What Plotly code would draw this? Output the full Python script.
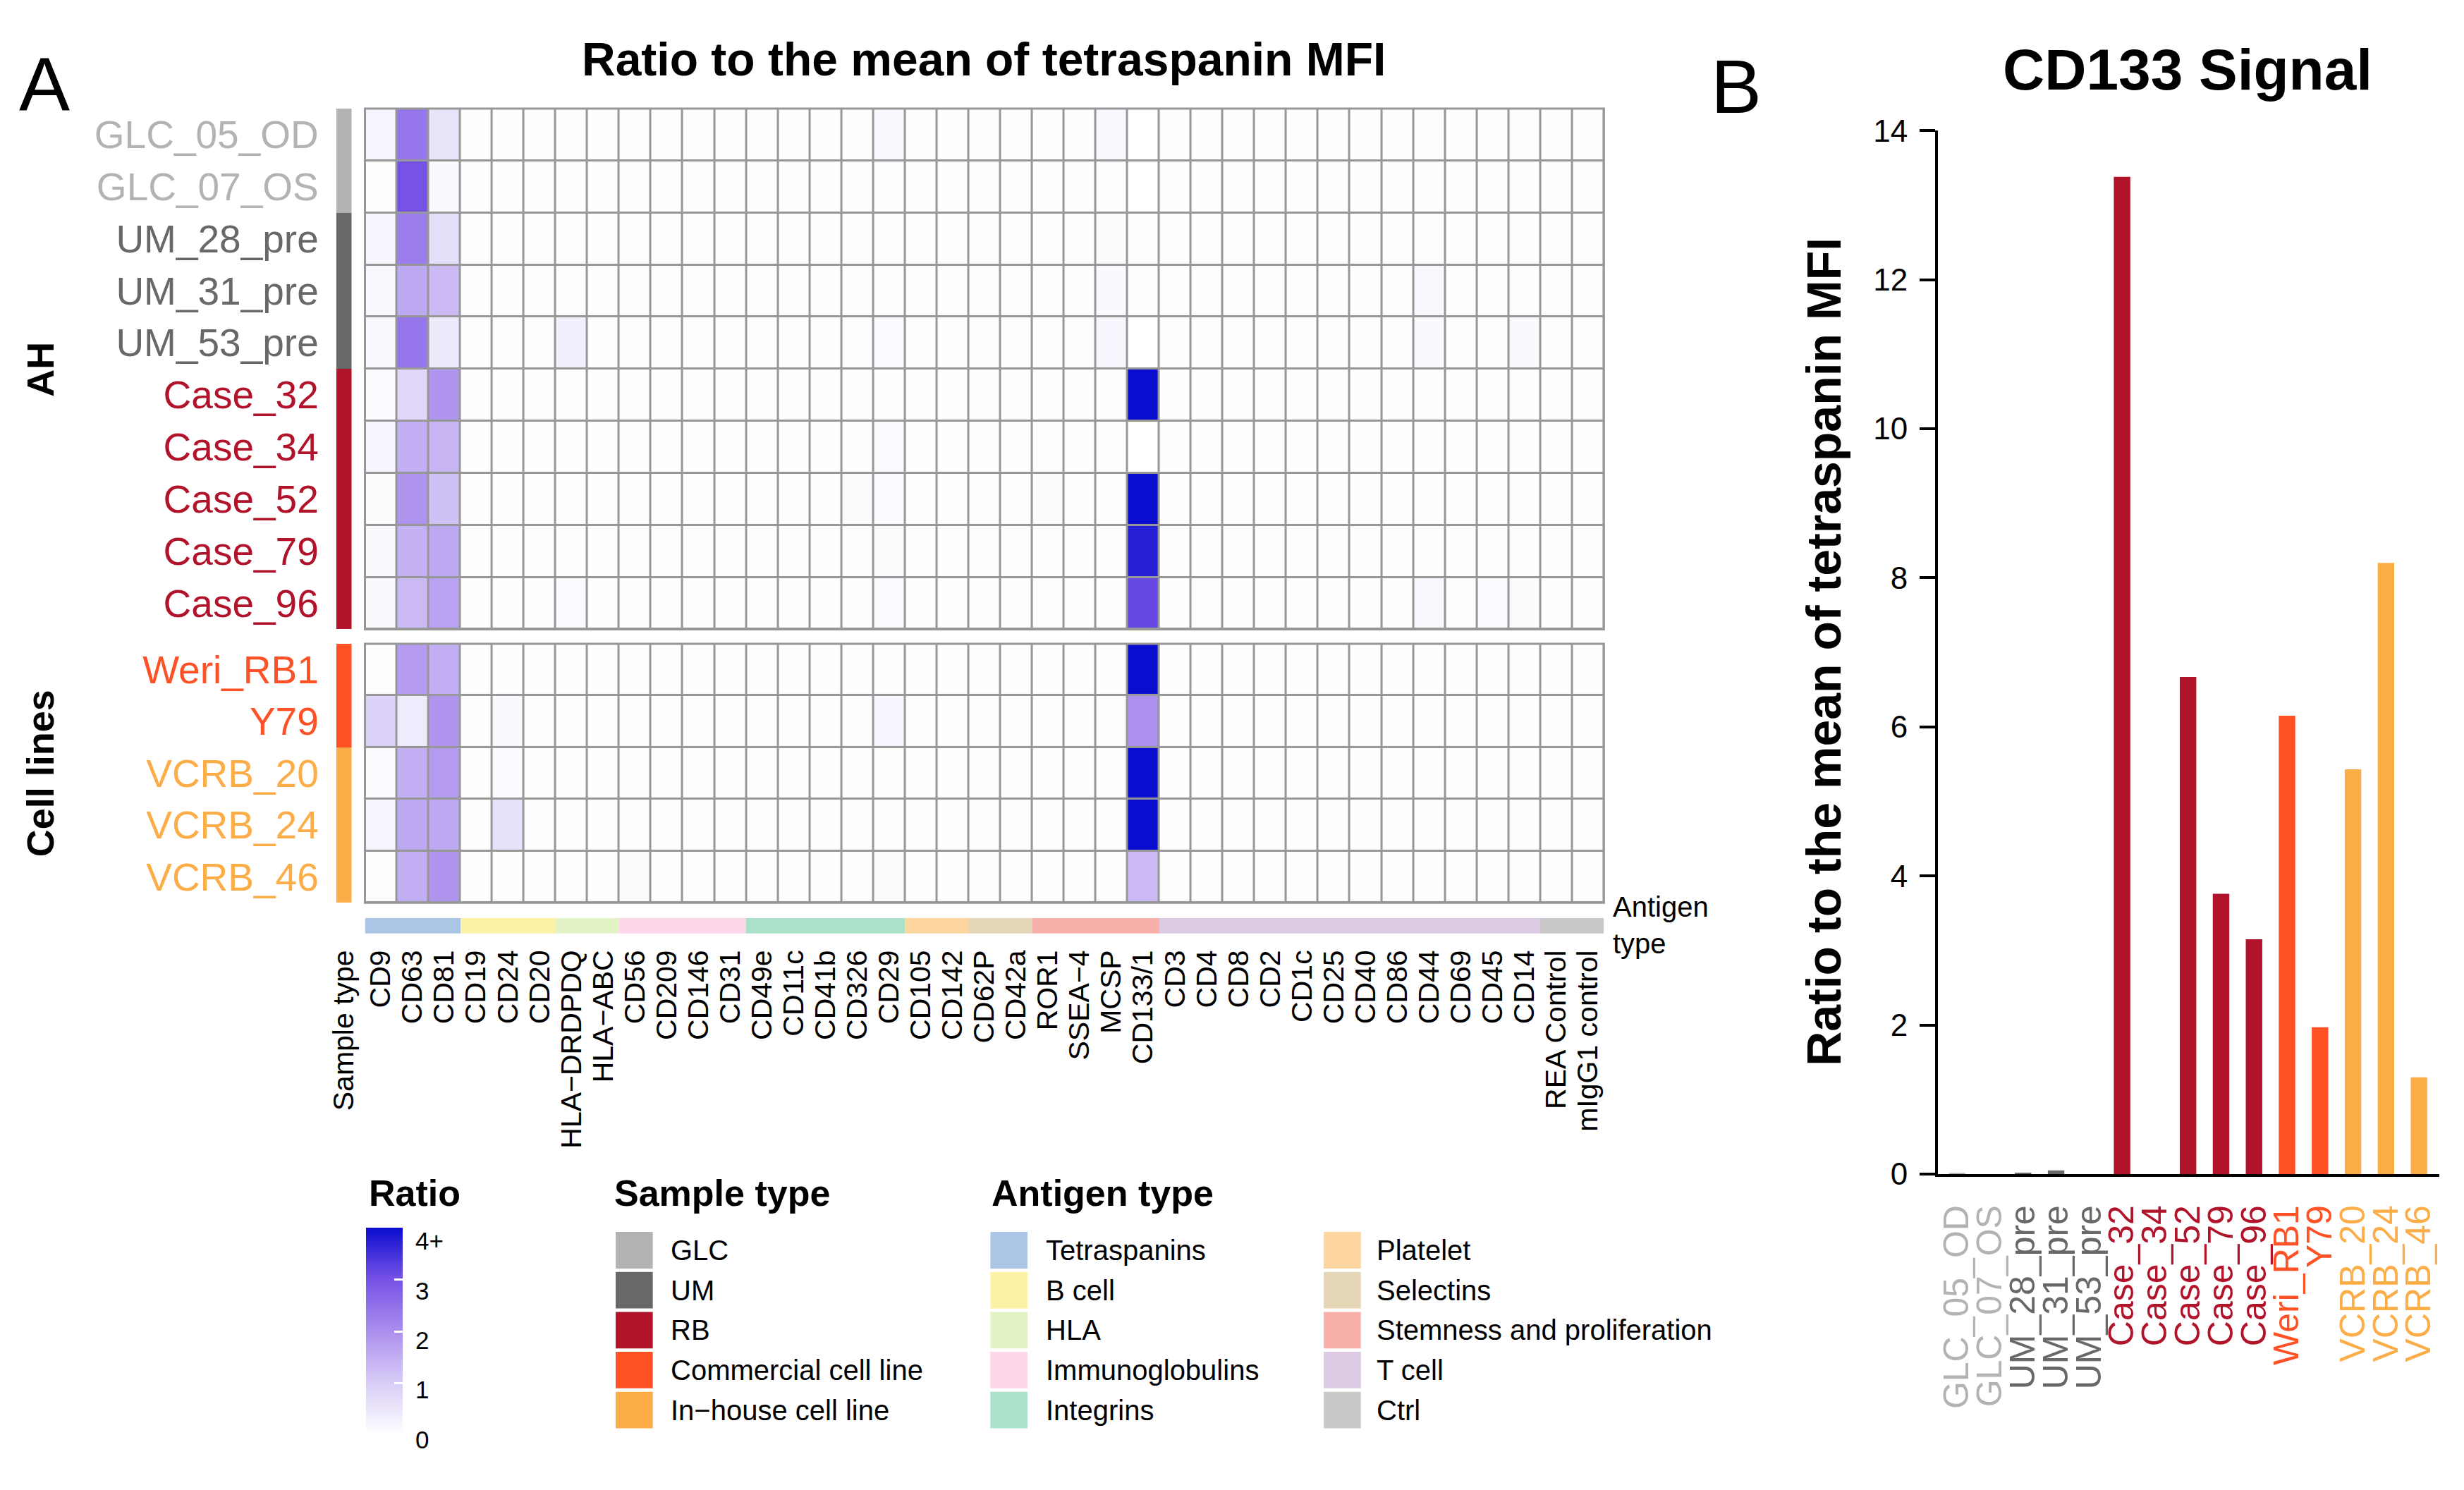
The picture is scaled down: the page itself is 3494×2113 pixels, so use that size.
import plotly.graph_objects as go

W, H = 3494, 2113
FONT = "Liberation Sans, Arial, Helvetica, sans-serif"

# ---------------- data ----------------
samples = ["GLC_05_OD", "GLC_07_OS", "UM_28_pre", "UM_31_pre", "UM_53_pre",
           "Case_32", "Case_34", "Case_52", "Case_79", "Case_96",
           "Weri_RB1", "Y79", "VCRB_20", "VCRB_24", "VCRB_46"]
sample_group = ["AH"] * 10 + ["Cell lines"] * 5
sample_type = ["GLC", "GLC", "UM", "UM", "UM",
               "RB", "RB", "RB", "RB", "RB",
               "Commercial cell line", "Commercial cell line",
               "In-house cell line", "In-house cell line", "In-house cell line"]
sample_type_levels = ["GLC", "UM", "RB", "Commercial cell line", "In-house cell line"]
sample_type_colors = ["#B3B3B3", "#686868", "#B1132B", "#FF5126", "#FCAD48"]

markers = ["CD9", "CD63", "CD81", "CD19", "CD24", "CD20", "HLA-DRDPDQ", "HLA-ABC",
           "CD56", "CD209", "CD146", "CD31", "CD49e", "CD11c", "CD41b", "CD326", "CD29",
           "CD105", "CD142", "CD62P", "CD42a", "ROR1", "SSEA-4", "MCSP", "CD133/1",
           "CD3", "CD4", "CD8", "CD2", "CD1c", "CD25", "CD40", "CD86", "CD44", "CD69",
           "CD45", "CD14", "REA Control", "mIgG1 control"]
antigen_type = (["Tetraspanins"] * 3 + ["B cell"] * 3 + ["HLA"] * 2 + ["Immunoglobulins"] * 4
                + ["Integrins"] * 5 + ["Platelet"] * 2 + ["Selectins"] * 2
                + ["Stemness and proliferation"] * 4 + ["T cell"] * 12 + ["Ctrl"] * 2)
antigen_levels = ["Tetraspanins", "B cell", "HLA", "Immunoglobulins", "Integrins",
                  "Platelet", "Selectins", "Stemness and proliferation", "T cell", "Ctrl"]
antigen_colors = ["#ABC6E4", "#FDF1A6", "#E2F3C6", "#FDD6EA", "#ABE1C9",
                  "#FDD59F", "#E4D6B6", "#FAB0AA", "#DCCAE3", "#C9C9C9"]

# ratio to the mean of tetraspanin MFI, one list per sample (39 markers, grouped by antigen type)
GLC_05_OD = [0.22, 2.40, 0.55, 0.02, 0.03, 0.02, 0.04, 0.02, 0.02, 0.02, 0.02, 0.02, 0.02, 0.02, 0.02, 0.03, 0.15, 0.02, 0.02, 0.02, 0.02, 0.03, 0.02, 0.15, 0.01, 0.02, 0.02, 0.02, 0.02, 0.02, 0.02, 0.02, 0.02, 0.04, 0.03, 0.02, 0.05, 0.02, 0.02]
GLC_07_OS = [0.02, 3.00, 0.12, 0.02, 0.02, 0.02, 0.02, 0.02, 0.02, 0.02, 0.02, 0.02, 0.02, 0.02, 0.02, 0.02, 0.04, 0.02, 0.02, 0.02, 0.02, 0.02, 0.02, 0.04, 0.00, 0.02, 0.02, 0.02, 0.02, 0.02, 0.02, 0.02, 0.02, 0.02, 0.02, 0.02, 0.02, 0.02, 0.02]
UM_28_pre = [0.20, 2.30, 0.65, 0.02, 0.03, 0.02, 0.04, 0.02, 0.02, 0.02, 0.02, 0.02, 0.02, 0.02, 0.02, 0.02, 0.05, 0.02, 0.02, 0.02, 0.02, 0.02, 0.02, 0.08, 0.02, 0.02, 0.02, 0.02, 0.02, 0.02, 0.02, 0.02, 0.02, 0.04, 0.02, 0.02, 0.02, 0.02, 0.02]
UM_31_pre = [0.15, 1.60, 1.30, 0.02, 0.03, 0.02, 0.05, 0.02, 0.02, 0.06, 0.02, 0.02, 0.02, 0.02, 0.02, 0.02, 0.06, 0.02, 0.02, 0.02, 0.02, 0.02, 0.02, 0.12, 0.05, 0.02, 0.02, 0.02, 0.02, 0.02, 0.02, 0.02, 0.02, 0.15, 0.02, 0.02, 0.03, 0.02, 0.02]
UM_53_pre = [0.15, 2.40, 0.45, 0.02, 0.06, 0.02, 0.35, 0.03, 0.02, 0.02, 0.02, 0.02, 0.02, 0.02, 0.02, 0.04, 0.10, 0.02, 0.02, 0.02, 0.02, 0.02, 0.04, 0.20, 0.00, 0.02, 0.02, 0.02, 0.02, 0.02, 0.02, 0.02, 0.02, 0.12, 0.02, 0.02, 0.12, 0.02, 0.02]
Case_32   = [0.10, 0.80, 1.90, 0.02, 0.02, 0.02, 0.03, 0.02, 0.02, 0.02, 0.02, 0.02, 0.02, 0.02, 0.02, 0.02, 0.05, 0.02, 0.02, 0.02, 0.02, 0.02, 0.02, 0.03, 13.38, 0.02, 0.02, 0.02, 0.02, 0.02, 0.02, 0.02, 0.02, 0.02, 0.02, 0.02, 0.02, 0.02, 0.02]
Case_34   = [0.20, 1.50, 1.40, 0.02, 0.02, 0.02, 0.03, 0.02, 0.02, 0.02, 0.02, 0.02, 0.02, 0.02, 0.02, 0.03, 0.10, 0.02, 0.02, 0.02, 0.02, 0.04, 0.02, 0.06, 0.00, 0.02, 0.02, 0.02, 0.02, 0.02, 0.02, 0.02, 0.02, 0.02, 0.02, 0.02, 0.02, 0.02, 0.02]
Case_52   = [0.08, 1.90, 1.20, 0.02, 0.02, 0.02, 0.04, 0.02, 0.02, 0.02, 0.02, 0.02, 0.02, 0.02, 0.02, 0.08, 0.10, 0.02, 0.02, 0.02, 0.02, 0.08, 0.02, 0.03, 6.67, 0.02, 0.02, 0.02, 0.02, 0.02, 0.02, 0.02, 0.02, 0.02, 0.02, 0.02, 0.02, 0.02, 0.02]
Case_79   = [0.12, 1.45, 1.60, 0.02, 0.02, 0.02, 0.03, 0.02, 0.02, 0.02, 0.02, 0.02, 0.02, 0.02, 0.02, 0.02, 0.08, 0.02, 0.02, 0.02, 0.02, 0.02, 0.02, 0.03, 3.76, 0.02, 0.02, 0.02, 0.02, 0.02, 0.02, 0.02, 0.02, 0.03, 0.02, 0.02, 0.02, 0.02, 0.02]
Case_96   = [0.12, 1.30, 1.70, 0.02, 0.02, 0.02, 0.10, 0.02, 0.02, 0.02, 0.02, 0.02, 0.02, 0.02, 0.02, 0.03, 0.10, 0.02, 0.02, 0.02, 0.02, 0.05, 0.02, 0.03, 3.15, 0.02, 0.04, 0.02, 0.02, 0.02, 0.02, 0.02, 0.03, 0.15, 0.05, 0.10, 0.08, 0.02, 0.02]
Weri_RB1  = [0.06, 1.80, 1.50, 0.02, 0.02, 0.02, 0.02, 0.02, 0.02, 0.02, 0.02, 0.02, 0.02, 0.02, 0.02, 0.02, 0.03, 0.02, 0.02, 0.02, 0.02, 0.02, 0.02, 0.02, 6.15, 0.02, 0.02, 0.02, 0.02, 0.02, 0.02, 0.02, 0.02, 0.02, 0.02, 0.02, 0.02, 0.02, 0.02]
Y79       = [0.90, 0.40, 1.90, 0.02, 0.12, 0.02, 0.02, 0.02, 0.02, 0.02, 0.02, 0.02, 0.02, 0.02, 0.02, 0.02, 0.18, 0.02, 0.02, 0.02, 0.02, 0.02, 0.02, 0.04, 1.97, 0.02, 0.02, 0.02, 0.02, 0.02, 0.02, 0.02, 0.02, 0.02, 0.02, 0.02, 0.02, 0.02, 0.02]
VCRB_20   = [0.10, 1.50, 1.80, 0.02, 0.10, 0.02, 0.02, 0.02, 0.02, 0.02, 0.02, 0.02, 0.02, 0.02, 0.02, 0.02, 0.03, 0.02, 0.02, 0.02, 0.02, 0.02, 0.02, 0.02, 5.43, 0.02, 0.02, 0.02, 0.02, 0.02, 0.02, 0.02, 0.02, 0.02, 0.02, 0.02, 0.02, 0.02, 0.02]
VCRB_24   = [0.18, 1.60, 1.60, 0.02, 0.60, 0.02, 0.02, 0.02, 0.02, 0.02, 0.02, 0.02, 0.02, 0.02, 0.02, 0.02, 0.03, 0.02, 0.02, 0.02, 0.02, 0.02, 0.02, 0.02, 8.20, 0.02, 0.02, 0.02, 0.02, 0.02, 0.02, 0.02, 0.02, 0.02, 0.02, 0.02, 0.02, 0.02, 0.02]
VCRB_46   = [0.04, 1.50, 1.90, 0.02, 0.02, 0.02, 0.02, 0.02, 0.08, 0.02, 0.02, 0.02, 0.02, 0.02, 0.02, 0.02, 0.08, 0.02, 0.02, 0.02, 0.02, 0.02, 0.02, 0.02, 1.30, 0.02, 0.02, 0.02, 0.02, 0.02, 0.02, 0.02, 0.02, 0.02, 0.02, 0.02, 0.02, 0.02, 0.02]

ratio_rows = [GLC_05_OD, GLC_07_OS, UM_28_pre, UM_31_pre, UM_53_pre,
              Case_32, Case_34, Case_52, Case_79, Case_96,
              Weri_RB1, Y79, VCRB_20, VCRB_24, VCRB_46]

ratio_ticks = [0, 1, 2, 3, 4]
ratio_ticktext = ["0", "1", "2", "3", "4+"]
bar_yticks = [0, 2, 4, 6, 8, 10, 12, 14]

# ---------------- helpers ----------------
def PX(v):
    return v / W


def PY(v):
    return 1 - v / H


def minus(s):
    return s.replace("-", "\u2212")


def discrete_scale(colors):
    n = len(colors)
    sc = []
    for i, c in enumerate(colors):
        sc.append([i / n, c])
        sc.append([(i + 1) / n, c])
    return sc


type_color = dict(zip(sample_type_levels, sample_type_colors))
row_colors = [type_color[t] for t in sample_type]
row_codes = [sample_type_levels.index(t) for t in sample_type]
ant_codes = [antigen_levels.index(a) for a in antigen_type]
cd133_idx = markers.index("CD133/1")
cd133 = [r[cd133_idx] for r in ratio_rows]

groups = ["AH", "Cell lines"]
grp_idx = {g: [i for i, s in enumerate(sample_group) if s == g] for g in groups}

ratio_scale = [[0.0, "#FFFFFF"], [0.25, "#D9CDF7"], [0.5, "#AB8FEE"],
               [0.75, "#7752E6"], [1.0, "#0A0DCF"]]

GRID = "#979797"

# colour-bar geometry (px): value 0 at CB_ZERO, 4 at CB_ZERO - 4*CB_UNIT
CB_ZERO, CB_UNIT = 2064, 72
CB_TOP = CB_ZERO - 4 * CB_UNIT - 12

fig = go.Figure()

yaxes_for_group = {"AH": "y", "Cell lines": "y2"}
for gi, g in enumerate(groups):
    idx = grp_idx[g]
    fig.add_trace(go.Heatmap(
        z=[ratio_rows[i] for i in idx], x=markers, y=[samples[i] for i in idx],
        xaxis="x", yaxis=yaxes_for_group[g], colorscale=ratio_scale, zmin=0, zmax=4,
        xgap=3, ygap=3, hoverinfo="skip", showscale=(gi == 0),
        colorbar=dict(
            x=PX(509), xanchor="left", xref="paper", y=PY(CB_ZERO - 6), yanchor="bottom", yref="paper",
            len=(CB_ZERO - 6 - CB_TOP), lenmode="pixels", thickness=52, thicknessmode="pixels",
            outlinewidth=0, xpad=0, ypad=0,
            tickvals=ratio_ticks, showticklabels=False,
            ticks="inside", ticklen=12, tickwidth=3, tickcolor="white",
        ),
    ))
    fig.add_trace(go.Heatmap(
        z=[[row_codes[i]] for i in idx], x=["Sample type"], y=[samples[i] for i in idx],
        xaxis="x2", yaxis=yaxes_for_group[g], colorscale=discrete_scale(sample_type_colors),
        zmin=-0.5, zmax=len(sample_type_colors) - 0.5, showscale=False, hoverinfo="skip",
    ))

fig.add_trace(go.Heatmap(
    z=[ant_codes], x=markers, y=["Antigen type"], xaxis="x", yaxis="y3",
    colorscale=discrete_scale(antigen_colors), zmin=-0.5, zmax=len(antigen_colors) - 0.5,
    showscale=False, hoverinfo="skip",
))

fig.add_trace(go.Bar(
    x=samples, y=cd133, marker=dict(color=row_colors, line=dict(width=0)), width=0.5,
    xaxis="x3", yaxis="y4", hoverinfo="skip", showlegend=False,
))

# grid background + border for heatmap blocks
for ya in ["y", "y2"]:
    fig.add_shape(type="rect", xref="x domain", yref=ya + " domain", x0=0, x1=1, y0=0, y1=1,
                  fillcolor=GRID, line=dict(width=0), layer="below")
    fig.add_shape(type="rect", xref="x domain", yref=ya + " domain", x0=0, x1=1, y0=0, y1=1,
                  fillcolor="rgba(0,0,0,0)", line=dict(width=3, color=GRID), layer="above")

tick_font = dict(size=41, family=FONT, color="black")
row_font = dict(size=55, family=FONT)


def colored(names, cols):
    return ['<span style="color:%s">%s</span>' % (c, n) for n, c in zip(names, cols)]


layout_axes = dict(
    xaxis=dict(domain=[PX(508), PX(2277)], anchor="y3", type="category",
               tickvals=markers, ticktext=[minus(m) for m in markers], tickangle=-90,
               ticks="", ticklabelstandoff=14, tickfont=tick_font, showgrid=False,
               zeroline=False, showline=False),
    xaxis2=dict(domain=[PX(467), PX(489)], anchor="y3", type="category",
                tickvals=["Sample type"], ticktext=["Sample type"], tickangle=-90,
                ticks="", ticklabelstandoff=14, tickfont=tick_font, showgrid=False,
                zeroline=False, showline=False),
    yaxis=dict(domain=[PY(888), PY(132)], anchor="x2", type="category", autorange="reversed",
               tickvals=[samples[i] for i in grp_idx["AH"]],
               ticktext=colored([samples[i] for i in grp_idx["AH"]], [row_colors[i] for i in grp_idx["AH"]]),
               ticks="", ticklabelstandoff=24, tickfont=row_font, showgrid=False, zeroline=False),
    yaxis2=dict(domain=[PY(1285), PY(909)], anchor="x2", type="category", autorange="reversed",
                tickvals=[samples[i] for i in grp_idx["Cell lines"]],
                ticktext=colored([samples[i] for i in grp_idx["Cell lines"]], [row_colors[i] for i in grp_idx["Cell lines"]]),
                ticks="", ticklabelstandoff=24, tickfont=row_font, showgrid=False, zeroline=False),
    yaxis3=dict(domain=[PY(1330), PY(1307)], anchor="x", showticklabels=False, ticks="",
                showgrid=False, zeroline=False),
    xaxis3=dict(domain=[PX(2754), PX(3470)], anchor="y4", type="category",
                range=[-0.58, len(samples) - 1 + 0.62], tickvals=samples,
                ticktext=colored(samples, row_colors), tickangle=-90, ticks="",
                ticklabelstandoff=20, tickfont=dict(size=50, family=FONT),
                showline=True, linecolor="black", linewidth=4, showgrid=False, zeroline=False),
    yaxis4=dict(domain=[PY(1679), PY(164)], anchor="x3", range=[0, 14], tickvals=bar_yticks,
                ticks="outside", ticklen=22, tickwidth=4, tickcolor="black",
                showline=True, linecolor="black", linewidth=4, showgrid=False, zeroline=False,
                tickfont=dict(size=44, family=FONT, color="black"), ticklabelstandoff=8),
)

annotations = []


def ann(text, x, y, size, xanchor="center", yanchor="middle", angle=0, align="center", color="black"):
    annotations.append(dict(text=text, x=PX(x), y=PY(y), xref="paper", yref="paper",
                            showarrow=False, xanchor=xanchor, yanchor=yanchor, textangle=angle,
                            align=align, font=dict(size=size, family=FONT, color=color)))


ann("A", 50, 97, 108)
ann("B", 2466, 100, 108)
ann("<b>Ratio to the mean of tetraspanin MFI</b>", 1392, 60, 66)
ann("<b>CD133 Signal</b>", 3110, 75, 82)
ann("<b>Ratio to the mean of tetraspanin MFI</b>", 2590, 921, 68, angle=-90)
ann("<b>AH</b>", 44, 511, 54, angle=-90)
ann("<b>Cell lines</b>", 44, 1097, 54, angle=-90)
ann("Antigen<br>type", 2288, 1318, 40, xanchor="left", align="left")

# colour-bar legend title and labels
ann("<b>Ratio</b>", 512, 1707, 52, xanchor="left")
for v, t in zip(ratio_ticks, ratio_ticktext):
    ann(t, 578, CB_ZERO - v * CB_UNIT, 35, xanchor="left")

# legends (sample type / antigen type)
LEG_TOP, PITCH, SW = 1763, 58, 53
ann("<b>Sample type</b>", 862, 1707, 52, xanchor="left")
ann("<b>Antigen type</b>", 1401, 1707, 52, xanchor="left")

shapes = []


def swatch(x0, i, color):
    y0 = LEG_TOP + PITCH * i
    shapes.append(dict(type="rect", xref="paper", yref="paper", x0=PX(x0), x1=PX(x0 + SW),
                       y0=PY(y0 + SW), y1=PY(y0), fillcolor=color, line=dict(width=0)))


for i, (name, col) in enumerate(zip(sample_type_levels, sample_type_colors)):
    swatch(866, i, col)
    ann(minus(name), 942, LEG_TOP + PITCH * i + SW / 2, 40, xanchor="left")

for i, (name, col) in enumerate(zip(antigen_levels, antigen_colors)):
    col_x, lab_x = (1401, 1478) if i < 5 else (1877, 1950)
    swatch(col_x, i % 5, col)
    ann(name, lab_x, LEG_TOP + PITCH * (i % 5) + SW / 2, 40, xanchor="left")

for s in shapes:
    fig.add_shape(**s)

fig.update_layout(
    autosize=True, margin=dict(l=0, r=0, t=0, b=0, pad=0),
    paper_bgcolor="white", plot_bgcolor="white",
    showlegend=False, annotations=annotations,
    font=dict(family=FONT, color="black"),
    **layout_axes,
)

fig.write_html(
    "out.html",
    default_width="100vw", default_height="100vh",
    config={"displayModeBar": False},
    post_script="document.documentElement.style.margin='0';document.body.style.margin='0';"
                "document.body.style.overflow='hidden';window.dispatchEvent(new Event('resize'));",
)
